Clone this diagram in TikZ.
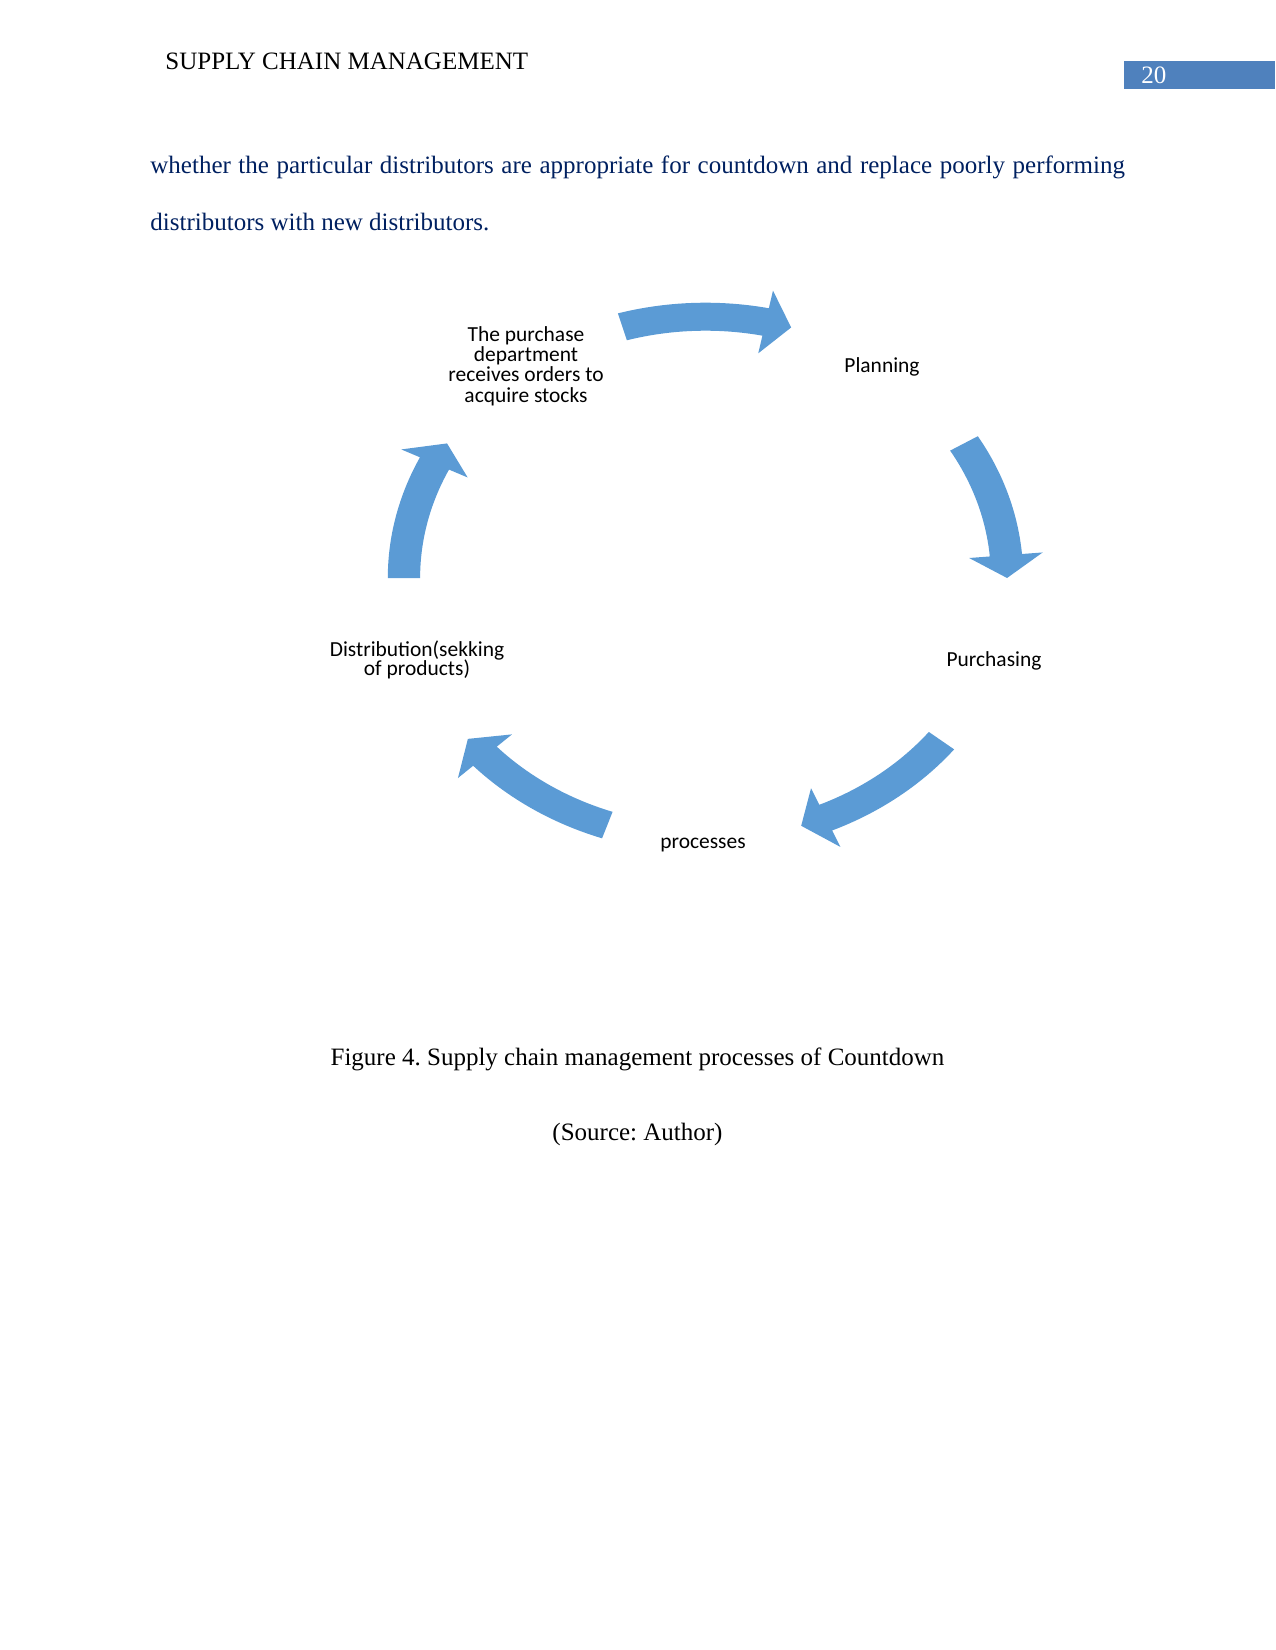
\documentclass[tikz,border=0pt]{standalone}
\usepackage{fontspec}
\setmainfont{Liberation Serif}
\newfontfamily\calfont{Carlito}
\frenchspacing
\definecolor{arrowblue}{HTML}{5B9BD5}
\definecolor{pagebox}{HTML}{4F81BD}
\definecolor{bodynavy}{HTML}{002060}
\tikzset{
  pagetext/.style={font=\fontsize{12}{14}\selectfont, inner sep=0pt},
  steplabel/.style={font={\calfont\fontsize{10.3}{9.8}\selectfont}, align=center, inner sep=0pt,
    execute at begin node={\lineskiplimit=-\maxdimen\lineskip=0pt}},
}
\newcommand\cycarrow[2]{%
  \fill[arrowblue] (#2:275.3) arc[start angle=#2, end angle={#1+5}, radius=275.3]
    -- ({#1+5}:293.3) -- (#1:261.3) -- ({#1+5}:229.3) -- ({#1+5}:247.3)
    arc[start angle={#1+5}, end angle=#2, radius=247.3] -- cycle;}
\begin{document}
\begin{tikzpicture}[x=0.48pt,y=-0.48pt]
\useasboundingbox (0,0) rectangle (1275,1650);
\node[pagetext, anchor=base west] (head) at (165,70) {SUPPLY CHAIN MANAGEMENT};
\fill[pagebox] (1124,61) rectangle (1275,89);
\node[pagetext, anchor=base west, text=white] (pagenum) at (1141,84) {20};
\node[pagetext, anchor=base west, text=bodynavy] (line1) at (150,174)
  {\makebox[467.8pt][s]{whether the particular distributors are appropriate for countdown and replace poorly performing}};
\node[pagetext, anchor=base west, text=bodynavy] (line2) at (150,231) {distributors with new distributors.};
\coordinate (cyc) at (705.5,578);
\begin{scope}[shift={(cyc)}, xscale=1.154, yscale=-1]
\foreach \tip/\tail in {73.5/106, 0/31, -71.5/-38.5, -142/-109, 149/180}
  \cycarrow{\tip}{\tail};
\end{scope}
\node[steplabel] (orders) at (526,366) {The purchase\\department\\receives orders to\\acquire stocks};
\node[steplabel] (planning) at (882,367) {Planning};
\node[steplabel] (purchasing) at (994,661) {Purchasing};
\node[steplabel] (processes) at (703,845) {processes};
\node[steplabel] (distribution) at (417,660) {Distribution(sekking\\[-1pt]of products)};
\node[pagetext, anchor=base] (caption) at (637.5,1065) {Figure 4. Supply chain management processes of Countdown};
\node[pagetext, anchor=base] (source) at (637.5,1140) {(Source: Author)};
\end{tikzpicture}
\end{document}
